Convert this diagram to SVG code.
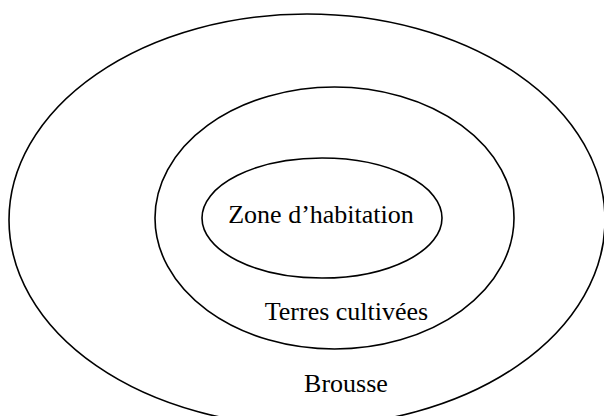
<svg xmlns="http://www.w3.org/2000/svg" width="604" height="416" viewBox="0 0 604 416">
<style>
.ring{fill:none;stroke:#000;stroke-width:1.6}
.lbl{font-family:"Liberation Serif","Times New Roman",serif;font-size:26px;fill:#000;text-anchor:middle}
</style>
<rect width="604" height="416" fill="#fff"/>
<g id="brousse">
<ellipse class="ring" cx="307" cy="220" rx="298" ry="206"/>
<text class="lbl" x="346" y="392">Brousse</text>
</g>
<g id="terres">
<ellipse class="ring" cx="334.5" cy="218" rx="179.5" ry="131"/>
<text class="lbl" x="346.5" y="320">Terres cultivées</text>
</g>
<g id="habitation">
<ellipse class="ring" cx="322" cy="218" rx="120" ry="60"/>
<text class="lbl" x="321" y="223">Zone d’habitation</text>
</g>
<g id="connectors"/>
</svg>
